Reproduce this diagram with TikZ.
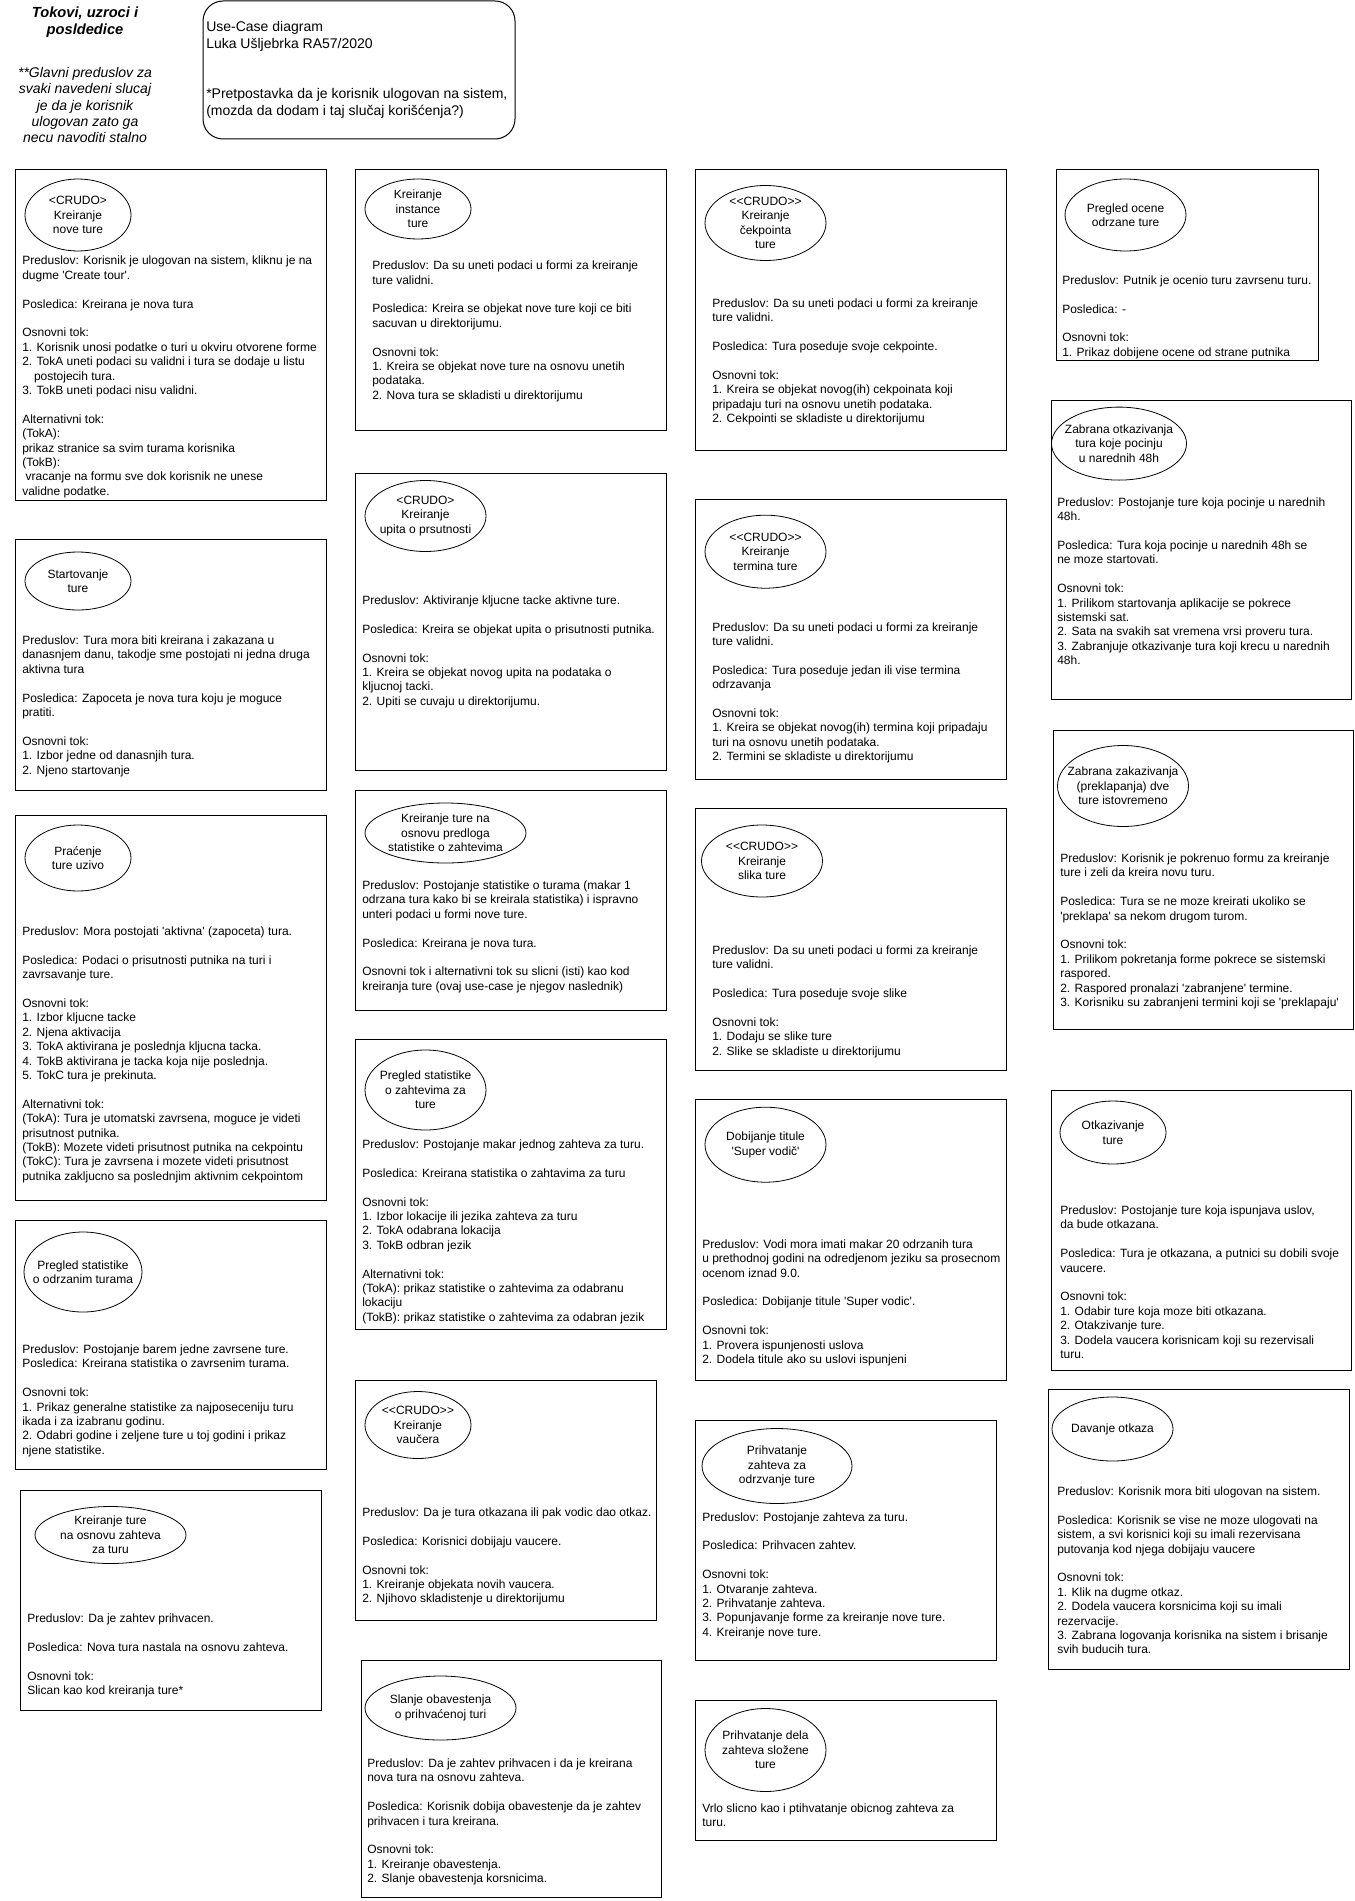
\documentclass[tikz,border=0pt]{standalone}
\usepackage{fontspec}
\setmainfont{Liberation Sans}
\usetikzlibrary{shapes.geometric}
\tikzset{
  card/.style={draw=black,line width=0.75pt},
  usecase/.style 2 args={draw,ellipse,line width=0.6pt,inner xsep=-30pt,inner ysep=-20pt,align=center,
    minimum width=#1*0.75pt,minimum height=#2*0.75pt,font=\fontsize{9}{10.8}\selectfont},
  body/.style={anchor=north west,inner sep=0pt,align=left,font=\fontsize{9}{10.8}\selectfont,
    yshift=-1.9pt,execute at begin node=\strut}
}
\newcommand{\gap}{\\[10.8pt]}
\newcommand{\q}{\textquotesingle}

\begin{document}
\begin{tikzpicture}[x=0.75pt,y=-0.75pt]
  \fill[white] (0,0) rectangle (1354,1901);
  \useasboundingbox (0,0) rectangle (1354,1901);

  % naslov i napomena
  \node[anchor=north,inner sep=0pt,align=center,font=\fontsize{11}{12.8}\selectfont\bfseries\itshape] (naslov) at (85,5) {\strut Tokovi, uzroci i\\posldedice};
  \node[anchor=north,inner sep=0pt,align=center,font=\fontsize{10.5}{12.2}\selectfont\itshape] (napomena) at (85,66)
    {\strut **Glavni preduslov za\\svaki navedeni slucaj\\je da je korisnik\\ulogovan zato ga\\necu navoditi stalno};
  \draw[card,rounded corners=15pt] (203,1) rectangle (515,139);
  \node[anchor=north west,inner sep=0pt,align=left,font=\fontsize{10.5}{12.6}\selectfont] (zaglavlje) at (206,19.7)
    {\strut Use-Case diagram\\Luka Ušljebrka RA57/2020\\[25.2pt]*Pretpostavka da je korisnik ulogovan na sistem,\\(mozda da dodam i taj slučaj korišćenja?)};

  % prva kolona
  \draw[card] (15,170) rectangle (326,500);
  \node[usecase={106}{72}] (nova) at (78,215) {<CRUDO>\\Kreiranje\\nove ture};
  \node[body] (nova-t) at (22,253.4) {Preduslov: Korisnik je ulogovan na sistem, kliknu je na\\dugme \q Create tour\q.\gap
    Posledica: Kreirana je nova tura\gap
    Osnovni tok:\\1. Korisnik unosi podatke o turi u okviru otvorene forme\\2. TokA uneti podaci su validni i tura se dodaje u listu\\\hspace*{8.8pt}postojecih tura.\\3. TokB uneti podaci nisu validni.\gap
    Alternativni tok:\\(TokA):\\prikaz stranice sa svim turama korisnika\\(TokB):\\\hspace*{2.5pt}vracanje na formu sve dok korisnik ne unese\\validne podatke.};

  \draw[card] (15,539.5) rectangle (326,790.5);
  \node[usecase={106}{58}] (start) at (78,581) {Startovanje\\ture};
  \node[body] (start-t) at (22,632.9) {Preduslov: Tura mora biti kreirana i zakazana u\\danasnjem danu, takodje sme postojati ni jedna druga\\aktivna tura\gap
    Posledica: Zapoceta je nova tura koju je moguce\\pratiti.\gap
    Osnovni tok:\\1. Izbor jedne od danasnjih tura.\\2. Njeno startovanje};

  \draw[card] (15,815) rectangle (326,1200);
  \node[usecase={106}{66}] (pracenje) at (78,858) {Praćenje\\ture uzivo};
  \node[body] (pracenje-t) at (22,923.9) {Preduslov: Mora postojati \q aktivna\q{} (zapoceta) tura.\gap
    Posledica: Podaci o prisutnosti putnika na turi i\\zavrsavanje ture.\gap
    Osnovni tok:\\1. Izbor kljucne tacke\\2. Njena aktivacija\\3. TokA aktivirana je poslednja kljucna tacka.\\4. TokB aktivirana je tacka koja nije poslednja.\\5. TokC tura je prekinuta.\gap
    Alternativni tok:\\(TokA): Tura je utomatski zavrsena, moguce je videti\\prisutnost putnika.\\(TokB): Mozete videti prisutnost putnika na cekpointu\\(TokC): Tura je zavrsena i mozete videti prisutnost\\putnika zakljucno sa poslednjim aktivnim cekpointom};

  \draw[card] (15,1220) rectangle (326,1469.5);
  \node[usecase={118}{80}] (odrzane) at (83,1272) {Pregled statistike\\o odrzanim turama};
  \node[body] (odrzane-t) at (22,1341.9) {Preduslov: Postojanje barem jedne zavrsene ture.\\Posledica: Kreirana statistika o zavrsenim turama.\gap
    Osnovni tok:\\1. Prikaz generalne statistike za najposeceniju turu\\ikada i za izabranu godinu.\\2. Odabri godine i zeljene ture u toj godini i prikaz\\njene statistike.};

  \draw[card] (20,1490) rectangle (321,1710);
  \node[usecase={151}{57}] (pozahtevu) at (110.5,1535) {Kreiranje ture\\na osnovu zahteva\\za turu};
  \node[body] (pozahtevu-t) at (27,1611.4) {Preduslov: Da je zahtev prihvacen.\gap
    Posledica: Nova tura nastala na osnovu zahteva.\gap
    Osnovni tok:\\Slican kao kod kreiranja ture*};

  % druga kolona
  \draw[card] (355,170) rectangle (666,430);
  \node[usecase={106}{60}] (instanca) at (418,209) {Kreiranje\\instance\\ture};
  \node[body] (instanca-t) at (372,258.2) {Preduslov: Da su uneti podaci u formi za kreiranje\\ture validni.\gap
    Posledica: Kreira se objekat nove ture koji ce biti\\sacuvan u direktorijumu.\gap
    Osnovni tok:\\1. Kreira se objekat nove ture na osnovu unetih\\podataka.\\2. Nova tura se skladisti u direktorijumu};

  \draw[card] (355,473) rectangle (666,770);
  \node[usecase={121}{71}] (upit) at (425.5,516) {<CRUDO>\\Kreiranje\\upita o prsutnosti};
  \node[body] (upit-t) at (362,592.9) {Preduslov: Aktiviranje kljucne tacke aktivne ture.\gap
    Posledica: Kreira se objekat upita o prisutnosti putnika.\gap
    Osnovni tok:\\1. Kreira se objekat novog upita na podataka o\\kljucnoj tacki.\\2. Upiti se cuvaju u direktorijumu.};

  \draw[card] (355,790.5) rectangle (666,1010);
  \node[usecase={161}{60}] (predlog) at (445.5,833) {Kreiranje ture na\\osnovu predloga\\statistike o zahtevima};
  \node[body] (predlog-t) at (362,877.9) {Preduslov: Postojanje statistike o turama (makar 1\\odrzana tura kako bi se kreirala statistika) i ispravno\\unteri podaci u formi nove ture.\gap
    Posledica: Kreirana je nova tura.\gap
    Osnovni tok i alternativni tok su slicni (isti) kao kod\\kreiranja ture (ovaj use-case je njegov naslednik)};

  \draw[card] (355,1039) rectangle (666,1329);
  \node[usecase={121}{80}] (zahtevi) at (425.5,1090) {Pregled statistike\\o zahtevima za\\ture};
  \node[body] (zahtevi-t) at (362,1136.9) {Preduslov: Postojanje makar jednog zahteva za turu.\gap
    Posledica: Kreirana statistika o zahtavima za turu\gap
    Osnovni tok:\\1. Izbor lokacije ili jezika zahteva za turu\\2. TokA odabrana lokacija\\3. TokB odbran jezik\gap
    Alternativni tok:\\(TokA): prikaz statistike o zahtevima za odabranu\\lokaciju\\(TokB): prikaz statistike o zahtevima za odabran jezik};

  \draw[card] (355,1380) rectangle (656,1620);
  \node[usecase={106}{67}] (vaucer) at (418,1425) {<{}<CRUDO>{}>\\Kreiranje\\vaučera};
  \node[body] (vaucer-t) at (362,1504.9) {Preduslov: Da je tura otkazana ili pak vodic dao otkaz.\gap
    Posledica: Korisnici dobijaju vaucere.\gap
    Osnovni tok:\\1. Kreiranje objekata novih vaucera.\\2. Njihovo skladistenje u direktorijumu};

  \draw[card] (361,1660) rectangle (661,1897);
  \node[usecase={151}{64}] (obavestenje) at (440.5,1708) {Slanje obavestenja\\o prihvaćenoj turi};
  \node[body] (obavestenje-t) at (367,1755.9) {Preduslov: Da je zahtev prihvacen i da je kreirana\\nova tura na osnovu zahteva.\gap
    Posledica: Korisnik dobija obavestenje da je zahtev\\prihvacen i tura kreirana.\gap
    Osnovni tok:\\1. Kreiranje obavestenja.\\2. Slanje obavestenja korsnicima.};

  % treca kolona
  \draw[card] (695,170) rectangle (1006,450);
  \node[usecase={121}{75}] (cekpoint) at (765.5,223) {<{}<CRUDO>{}>\\Kreiranje\\čekpointa\\ture};
  \node[body] (cekpoint-t) at (712,295.9) {Preduslov: Da su uneti podaci u formi za kreiranje\\ture validni.\gap
    Posledica: Tura poseduje svoje cekpointe.\gap
    Osnovni tok:\\1. Kreira se objekat novog(ih) cekpoinata koji\\pripadaju turi na osnovu unetih podataka.\\2. Cekpointi se skladiste u direktorijumu};

  \draw[card] (695,499.5) rectangle (1006,779.6);
  \node[usecase={121}{73}] (termin) at (765.5,551.7) {<{}<CRUDO>{}>\\Kreiranje\\termina ture};
  \node[body] (termin-t) at (712,619.6) {Preduslov: Da su uneti podaci u formi za kreiranje\\ture validni.\gap
    Posledica: Tura poseduje jedan ili vise termina\\odrzavanja\gap
    Osnovni tok:\\1. Kreira se objekat novog(ih) termina koji pripadaju\\turi na osnovu unetih podataka.\\2. Termini se skladiste u direktorijumu};

  \draw[card] (695,808.7) rectangle (1006,1070.6);
  \node[usecase={121}{72}] (slike) at (762,861) {<{}<CRUDO>{}>\\Kreiranje\\slika ture};
  \node[body] (slike-t) at (712,942.9) {Preduslov: Da su uneti podaci u formi za kreiranje\\ture validni.\gap
    Posledica: Tura poseduje svoje slike\gap
    Osnovni tok:\\1. Dodaju se slike ture\\2. Slike se skladiste u direktorijumu};

  \draw[card] (695,1099.7) rectangle (1006,1380);
  \node[usecase={121}{75}] (titula) at (765.5,1144.7) {Dobijanje titule\\\q Super vodič\q};
  \node[body] (titula-t) at (702,1236.7) {Preduslov: Vodi mora imati makar 20 odrzanih tura\\u prethodnoj godini na odredjenom jeziku sa prosecnom\\ocenom iznad 9.0.\gap
    Posledica: Dobijanje titule \q Super vodic\q.\gap
    Osnovni tok:\\1. Provera ispunjenosti uslova\\2. Dodela titule ako su uslovi ispunjeni};

  \draw[card] (695,1420) rectangle (996,1660);
  \node[usecase={150}{75}] (prihvatanje) at (777,1466) {Prihvatanje\\zahteva za\\odrzvanje ture};
  \node[body] (prihvatanje-t) at (702,1509.5) {Preduslov: Postojanje zahteva za turu.\gap
    Posledica: Prihvacen zahtev.\gap
    Osnovni tok:\\1. Otvaranje zahteva.\\2. Prihvatanje zahteva.\\3. Popunjavanje forme za kreiranje nove ture.\\4. Kreiranje nove ture.};

  \draw[card] (695,1700) rectangle (996,1840.5);
  \node[usecase={121}{83}] (slozena) at (765.5,1750) {Prihvatanje dela\\zahteva složene\\ture};
  \node[body] (slozena-t) at (702,1800.5) {Vrlo slicno kao i ptihvatanje obicnog zahteva za\\turu.};

  % cetvrta kolona
  \draw[card] (1056,170) rectangle (1318,360);
  \node[usecase={121}{72}] (ocena) at (1125.5,215) {Pregled ocene\\odrzane ture};
  \node[body] (ocena-t) at (1062,272.9) {Preduslov: Putnik je ocenio turu zavrsenu turu.\gap
    Posledica: -\gap
    Osnovni tok:\\1. Prikaz dobijene ocene od strane putnika};

  \draw[card] (1051,400) rectangle (1351,699.6);
  \node[usecase={135}{73}] (otkazivanje48) at (1119,443.6) {Zabrana otkazivanja\\tura koje pocinju\\u narednih 48h};
  \node[body] (otkazivanje48-t) at (1057,494.7) {Preduslov: Postojanje ture koja pocinje u narednih\\48h.\gap
    Posledica: Tura koja pocinje u narednih 48h se\\ne moze startovati.\gap
    Osnovni tok:\\1. Prilikom startovanja aplikacije se pokrece\\sistemski sat.\\2. Sata na svakih sat vremena vrsi proveru tura.\\3. Zabranjuje otkazivanje tura koji krecu u narednih\\48h.};

  \draw[card] (1053,730) rectangle (1353,1029.4);
  \node[usecase={131}{81}] (preklapanje) at (1123,786) {Zabrana zakazivanja\\(preklapanja) dve\\ture istovremeno};
  \node[body] (preklapanje-t) at (1060,850.9) {Preduslov: Korisnik je pokrenuo formu za kreiranje\\ture i zeli da kreira novu turu.\gap
    Posledica: Tura se ne moze kreirati ukoliko se\\\q preklapa\q{} sa nekom drugom turom.\gap
    Osnovni tok:\\1. Prilikom pokretanja forme pokrece se sistemski\\raspored.\\2. Raspored pronalazi \q zabranjene\q{} termine.\\3. Korisniku su zabranjeni termini koji se \q preklapaju\q};

  \draw[card] (1051,1090) rectangle (1351,1370);
  \node[usecase={106}{63}] (otkazivanje) at (1113,1132.5) {Otkazivanje\\ture};
  \node[body] (otkazivanje-t) at (1060,1202.9) {Preduslov: Postojanje ture koja ispunjava uslov,\\da bude otkazana.\gap
    Posledica: Tura je otkazana, a putnici su dobili svoje\\vaucere.\gap
    Osnovni tok:\\1. Odabir ture koja moze biti otkazana.\\2. Otakzivanje ture.\\3. Dodela vaucera korisnicam koji su rezervisali\\turu.};

  \draw[card] (1048,1389.5) rectangle (1349,1669.6);
  \node[usecase={121}{64}] (otkaz) at (1112.5,1429) {Davanje otkaza};
  \node[body] (otkaz-t) at (1057,1483.9) {Preduslov: Korisnik mora biti ulogovan na sistem.\gap
    Posledica: Korisnik se vise ne moze ulogovati na\\sistem, a svi korisnici koji su imali rezervisana\\putovanja kod njega dobijaju vaucere\gap
    Osnovni tok:\\1. Klik na dugme otkaz.\\2. Dodela vaucera korsnicima koji su imali\\rezervacije.\\3. Zabrana logovanja korisnika na sistem i brisanje\\svih buducih tura.};
\end{tikzpicture}
\end{document}
